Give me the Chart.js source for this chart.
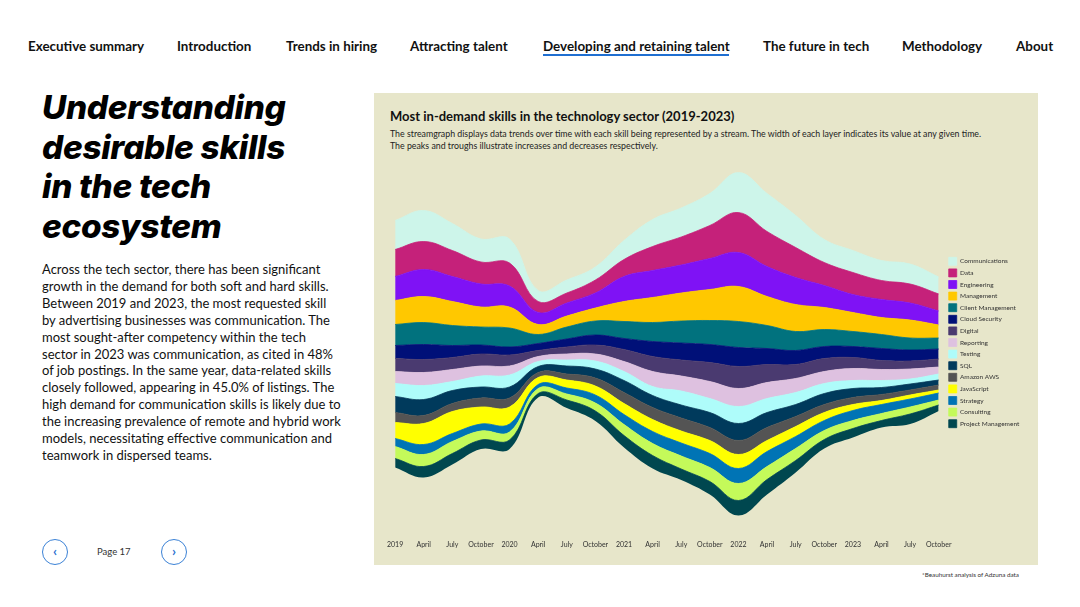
<!DOCTYPE html>
<html><head><meta charset="utf-8">
<script src="https://cdn.jsdelivr.net/npm/chart.js@4.4.1/dist/chart.umd.min.js"></script>
<style>
html,body{margin:0;padding:0;background:#fff;width:1080px;height:607px;overflow:hidden;font-family:Lato,"Noto Sans",sans-serif;color:#111;}
.nav{position:absolute;top:38px;font-size:13.4px;font-weight:700;white-space:nowrap;line-height:16px;color:#111;}
.uline{position:absolute;left:543px;top:54px;width:186px;height:2px;background:#1f6fd1;}
h1{position:absolute;left:42px;top:88px;margin:0;font-family:Inter,"Open Sans",sans-serif;font-size:33.3px;line-height:39.5px;font-weight:800;font-style:italic;color:#000;white-space:nowrap;letter-spacing:-0.3px;}
.para{position:absolute;left:42px;top:261px;font-size:13px;line-height:16.9px;color:#111;white-space:nowrap;}
.panel{position:absolute;left:374px;top:93px;width:664px;height:472px;background:#E7E6CA;}
.ctitle{position:absolute;left:390px;top:108px;font-size:13px;font-weight:700;color:#111;white-space:nowrap;}
.csub{position:absolute;left:390px;top:128px;font-size:8.8px;line-height:12px;color:#222;white-space:nowrap;}
canvas{position:absolute;left:366px;top:93px;}
.btn{position:absolute;width:24px;height:24px;border:1px solid #3b82d6;border-radius:50%;top:539px;color:#2a6fd0;font-size:14px;line-height:22px;text-align:center;font-weight:700;}
.page{position:absolute;left:97px;top:546px;font-size:9.5px;color:#333;}
.foot{position:absolute;left:922px;top:571px;font-size:6.3px;color:#333;white-space:nowrap;}
</style></head>
<body>
<div class="nav" style="left:28px">Executive summary</div>
<div class="nav" style="left:177px">Introduction</div>
<div class="nav" style="left:286px">Trends in hiring</div>
<div class="nav" style="left:410px">Attracting talent</div>
<div class="nav" style="left:543px">Developing and retaining talent</div>
<div class="uline"></div>
<div class="nav" style="left:763px">The future in tech</div>
<div class="nav" style="left:902px">Methodology</div>
<div class="nav" style="left:1016px">About</div>

<h1>Understanding<br>desirable skills<br>in the tech<br>ecosystem</h1>
<div class="para">Across the tech sector, there has been significant<br>growth in the demand for both soft and hard skills.<br>Between 2019 and 2023, the most requested skill<br>by advertising businesses was communication. The<br>most sought-after competency within the tech<br>sector in 2023 was communication, as cited in 48%<br>of job postings. In the same year, data-related skills<br>closely followed, appearing in 45.0% of listings. The<br>high demand for communication skills is likely due to<br>the increasing prevalence of remote and hybrid work<br>models, necessitating effective communication and<br>teamwork in dispersed teams.</div>

<div class="btn" style="left:42px">&#8249;</div>
<div class="page">Page 17</div>
<div class="btn" style="left:161px">&#8250;</div>

<div class="panel"></div>
<div class="ctitle">Most in-demand skills in the technology sector (2019-2023)</div>
<div class="csub">The streamgraph displays data trends over time with each skill being represented by a stream. The width of each layer indicates its value at any given time.<br>The peaks and troughs illustrate increases and decreases respectively.</div>
<canvas id="c" width="672" height="472"></canvas>
<div class="foot">*Beauhurst analysis of Adzuna data</div>

<script>
// Quarterly tick labels
const quarters = ['2019','April','July','October','2020','April','July','October','2021','April','July','October','2022','April','July','October','2023','April','July','October'];

// Stream thickness per skill (relative demand units)
const communications    = [29,31,27,23,24,11,13,13,19,27,29,32,40,38,32,23,22,20,20,17];
const data              = [27,28,26,22,23,11,10,13,17,24,28,33,40,35,30,23,22,19,19,17];
const engineering       = [24,27,25,23,21,12,13,15,25,27,28,31,34,30,27,22,18,18,17,14];
const management        = [24,26,24,20,21,10,11,13,20,25,28,31,35,29,27,22,19,17,18,13];
const clientManagement  = [21,22,20,18,19, 9,12,14,17,19,22,24,26,23,19,17,15,14,12,11];
const cloudSecurity     = [13,15,12, 9, 8, 7, 8,10,11,15,17,18,19,16,14,12,11,12,11,10];
const digital           = [13,13,12,12,11, 6, 7, 9,12,15,16,19,22,18,14,13,11, 9, 8, 8];
const reporting         = [12,13,12,10, 9, 5, 6, 7,10,15,15,17,18,16,14,12,12,11,10, 7];
const testing           = [13,14, 9,11,12, 5, 6, 8, 9, 9,14,14,17,14,12,10, 8, 7, 5, 6];
const sql               = [16,16,13,11,11, 6, 8, 9,12,12,13,15,17,15,12,11, 9, 7, 6, 5];
const amazonAWS         = [10, 8, 8, 9, 9, 5, 6, 8,11,12,13,13,14,13,10, 8, 7, 6, 5, 5];
const javaScript        = [16,21,22,17,17, 7, 8, 9,11,12,12,13,14,11,10, 8, 6, 4, 4, 3];
const strategy          = [ 8,10, 8, 7, 8, 4, 6, 8,10,12,13,14,15,15,12,10,10, 9, 8, 7];
const consulting        = [12,12,12, 9, 8, 5, 6, 8,11,12,13,14,17,13,12, 9, 8, 7, 7, 5];
const projectManagement = [ 9,11,11, 9, 9, 4, 8,10,12,13,11,13,15,15,12, 9, 9, 7,10, 6];

// Legend order (top stream first)
const skillNames = ['Communications','Data','Engineering','Management','Client Management','Cloud Security','Digital','Reporting','Testing','SQL','Amazon AWS','JavaScript','Strategy','Consulting','Project Management'];
const skillValues = [communications,data,engineering,management,clientManagement,cloudSecurity,digital,reporting,testing,sql,amazonAWS,javaScript,strategy,consulting,projectManagement];
const skillColors = ['#CDF5EA','#C5217A','#7F12F5','#FFC800','#01727E','#001078','#4A3A70','#DEC1E0','#AEFCFA','#003A5C','#545454','#FFFF00','#0074B5','#C4FA5A','#00474F'];

// Silhouette streamgraph: an invisible baseline centres the stack
const MID = 176;
const totals = quarters.map((_, i) => skillValues.reduce((s, arr) => s + arr[i], 0));
const baseline = totals.map(t => MID - t / 2);

const datasets = [{
  label: '_base', data: baseline, fill: false, borderWidth: 0,
  borderColor: 'rgba(0,0,0,0)', backgroundColor: 'rgba(0,0,0,0)', pointRadius: 0
}];
for (let k = skillNames.length - 1; k >= 0; k--) {
  datasets.push({
    label: skillNames[k], data: skillValues[k], fill: '-1',
    backgroundColor: skillColors[k], borderColor: skillColors[k], borderWidth: 0.8, pointRadius: 0
  });
}

new Chart(document.getElementById('c'), {
  type: 'line',
  data: { labels: quarters, datasets },
  options: {
    responsive: false, animation: false,
    layout: { padding: { top: 72, left: 0, right: 8.7, bottom: 15 } },
    elements: { line: { tension: 0.4 }, point: { radius: 0 } },
    plugins: {
      tooltip: { enabled: false },
      title: { display: false },
      legend: {
        position: 'right', align: 'center', fullSize: false, reverse: true,
        labels: {
          filter: (item) => item.text !== '_base',
          boxWidth: 8, boxHeight: 8, padding: 3.6, color: '#333',
          font: { size: 6.5, family: 'Lato' }
        }
      }
    },
    scales: {
      x: {
        type: 'category', offset: false,
        grid: { display: false, drawTicks: false }, border: { display: false },
        ticks: { autoSkip: false, maxRotation: 0, padding: 21, color: '#333', font: { size: 7, family: 'Lato' } },
        afterFit: (s) => { s.height = 30; }
      },
      y: {
        stacked: true, min: 0, max: 355, position: 'right',
        grid: { display: false, drawTicks: false }, border: { display: false },
        ticks: { display: false },
        afterFit: (s) => { s.width = 6.4; }
      }
    }
  }
});
</script>
</body></html>
